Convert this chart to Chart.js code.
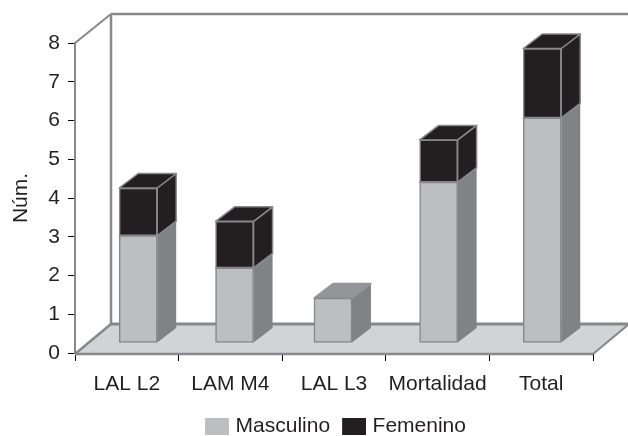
<!DOCTYPE html>
<html>
<head>
<meta charset="utf-8">
<title>Núm.</title>
<script src="https://cdn.jsdelivr.net/npm/chart.js@4"></script>
<style>
    html,body{ margin:0; padding:0; background:#ffffff; }
    canvas{ display:block; }
</style>
</head>
<body>
<canvas id="barChart" width="628" height="436"></canvas>
<script>
// =========================================
// DATA
// =========================================

const categories = ["LAL L2","LAM M4","LAL L3","Mortalidad","Total"];

// where each column stands, in category units (they are not evenly spaced)
const columnCenters = [0.61,1.54,2.49,3.51,4.51];

const masculino = [2.77,1.94,1.16,4.15,5.81];
const femenino = [1.23,1.20,0,1.09,1.79];

// =========================================
// STYLE
// =========================================

const FONT = "'Liberation Sans', Arial, sans-serif";
const TEXT = "#231f20";
const EDGE = "#87888b";

const WALL_DX = 36;
const WALL_DY = 29;
const BAR_DX = 19;
const BAR_DY = 14.5;
const BAR_LIFT = 10;

const faces = [
    { front:"#bcbec0", side:"#808285", top:"#939598" },
    { front:"#231f20", side:"#231f20", top:"#231f20" }
];

function polygon(ctx, pts, fill, stroke, width){

    ctx.beginPath();
    pts.forEach((p,i) => i ? ctx.lineTo(p[0],p[1]) : ctx.moveTo(p[0],p[1]));
    ctx.closePath();

    if(fill){
        ctx.fillStyle = fill;
        ctx.fill();
    }
    if(stroke){
        ctx.strokeStyle = stroke;
        ctx.lineWidth = width;
        ctx.stroke();
    }
}

function line(ctx, x1, y1, x2, y2, color, width){

    ctx.beginPath();
    ctx.moveTo(x1,y1);
    ctx.lineTo(x2,y2);
    ctx.strokeStyle = color;
    ctx.lineWidth = width;
    ctx.stroke();
}

// legend swatch: the library keeps a wide gap before the text,
// so the square is pushed right inside a transparent margin
function swatch(color){

    const c = document.createElement("canvas");
    c.width = 28;
    c.height = 17;

    const g = c.getContext("2d");
    g.fillStyle = color;
    g.fillRect(4,0,24,17);

    return c;
}

// =========================================
// 3D BOX PLUGIN
// =========================================

const box3d = {

    id:"box3d",

    beforeDatasetsDraw(chart){

        const ctx = chart.ctx;
        const a = chart.chartArea;
        const backX = a.left + WALL_DX;
        const backTop = a.top - WALL_DY;
        const backBottom = a.bottom - WALL_DY;

        ctx.save();
        ctx.lineJoin = "round";

        // floor and back wall
        polygon(ctx,[
            [a.left,a.bottom+1],[backX,backBottom],
            [a.right+WALL_DX,backBottom],[a.right,a.bottom+1]
        ],"#d1d3d4");

        line(ctx,backX,backTop,backX,backBottom,EDGE,2.5);
        line(ctx,a.left,a.top,backX,backTop,EDGE,2);
        line(ctx,backX,backTop,a.right+WALL_DX,backTop,EDGE,2.5);
        line(ctx,a.left,a.bottom+1,backX,backBottom,EDGE,2.5);
        line(ctx,backX,backBottom,a.right+WALL_DX,backBottom,EDGE,3);
        line(ctx,a.left,a.bottom+1,a.right,a.bottom+1,EDGE,2.5);
        line(ctx,a.right,a.bottom+1,a.right+WALL_DX,backBottom,EDGE,2);
        line(ctx,a.right+WALL_DX-0.5,backTop,a.right+WALL_DX-0.5,backBottom,"#e6e7e8",1);

        // columns sit a little in front of the back wall
        ctx.translate(0,-BAR_LIFT);

        [0,1].forEach(ds => {

            chart.getDatasetMeta(ds).data.forEach(bar => {

                if(Math.abs(bar.base - bar.y) < 0.5){
                    return;
                }

                const left = bar.x - bar.width/2;
                const right = bar.x + bar.width/2;

                polygon(ctx,[
                    [right,bar.y],[right+BAR_DX,bar.y-BAR_DY],
                    [right+BAR_DX,bar.base-BAR_DY],[right,bar.base]
                ],faces[ds].side,ds ? EDGE : null,1.5);

                polygon(ctx,[
                    [left,bar.y],[left+BAR_DX,bar.y-BAR_DY],
                    [right+BAR_DX,bar.y-BAR_DY],[right,bar.y]
                ],faces[ds].top,ds ? EDGE : "#939598",1.5);
            });
        });
    },

    afterDatasetsDraw(chart){
        chart.ctx.restore();
    },

    afterLayout(chart){

        // legend sits right of the canvas centre and lower than the library puts it
        chart.legend.left += 39;
        chart.legend.right += 39;
        chart.legend.top += 11;
        chart.legend.bottom += 11;
    }
};

// =========================================
// CHART
// =========================================

const chart = new Chart(document.getElementById("barChart"), {

    type:"bar",

    data:{

        labels:categories,

        datasets:[

            {
                label:"Masculino",
                data:masculino.map((v,i) => ({ x:columnCenters[i], y:v })),
                xAxisID:"xBars",
                backgroundColor:faces[0].front,
                borderColor:EDGE,
                borderWidth:1.5,
                borderSkipped:false,
                barThickness:38,
                clip:false
            },

            {
                label:"Femenino",
                data:femenino.map((v,i) => ({ x:columnCenters[i], y:v })),
                xAxisID:"xBars",
                backgroundColor:faces[1].front,
                borderColor:EDGE,
                borderWidth:1.5,
                borderSkipped:false,
                barThickness:38,
                clip:false
            }

        ]
    },

    plugins:[box3d],

    options:{

        responsive:false,
        animation:false,

        layout:{
            padding:{ left:0, right:35, top:43, bottom:0 }
        },

        plugins:{
            tooltip:{ enabled:false },
            legend:{
                position:"bottom",
                labels:{
                    color:TEXT,
                    font:{ family:FONT, size:21 },
                    usePointStyle:true,
                    pointStyleWidth:20,
                    boxHeight:17,
                    padding:12,
                    generateLabels(chart){
                        return chart.data.datasets.map((d,i) => ({
                            text:d.label,
                            datasetIndex:i,
                            fontColor:TEXT,
                            fillStyle:d.backgroundColor,
                            strokeStyle:d.backgroundColor,
                            lineWidth:0,
                            pointStyle:swatch(d.backgroundColor)
                        }));
                    }
                }
            }
        },

        scales:{

            x:{
                type:"category",
                offset:true,
                afterFit(scale){ scale.height = 40; },
                grid:{
                    offset:true,
                    drawOnChartArea:false,
                    color:"#000000",
                    tickLength:8
                },
                border:{ color:EDGE, width:0 },
                ticks:{
                    color:TEXT,
                    font:{ family:FONT, size:21 },
                    padding:11,
                    maxRotation:0,
                    autoSkip:false
                }
            },

            xBars:{
                type:"linear",
                axis:"x",
                display:false,
                stacked:true,
                offset:false,
                min:0,
                max:5
            },

            y:{
                min:0,
                max:8,
                stacked:true,
                afterFit(scale){ scale.width = 75; },
                title:{
                    display:true,
                    text:"Núm.",
                    color:TEXT,
                    font:{ family:FONT, size:21 },
                    padding:{ top:9, bottom:0 }
                },
                grid:{
                    drawOnChartArea:false,
                    color:"#000000",
                    tickLength:7
                },
                border:{ color:EDGE, width:2 },
                ticks:{
                    stepSize:1,
                    color:TEXT,
                    font:{ family:FONT, size:21 },
                    padding:8
                }
            }
        }
    }
});
</script>
</body>
</html>
